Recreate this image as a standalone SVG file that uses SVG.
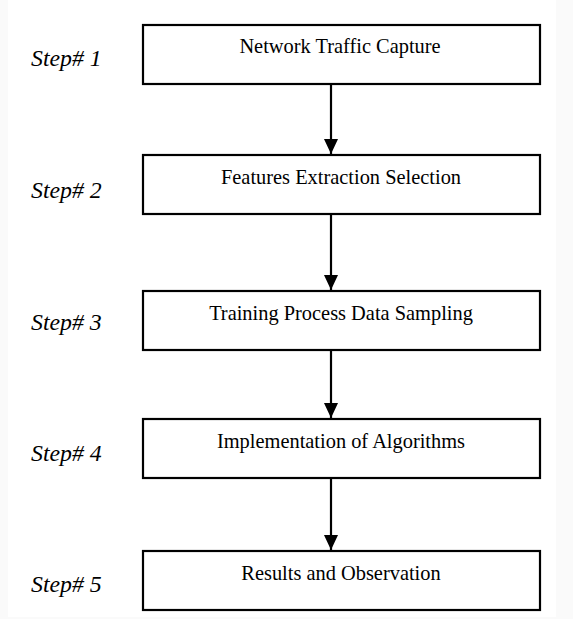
<svg xmlns="http://www.w3.org/2000/svg" width="573" height="619" viewBox="0 0 573 619">
<defs>
<style>
.box{fill:#fff;stroke:#000;stroke-width:2.2}
.lbl{font-family:"Liberation Serif","Times New Roman",serif;font-size:20.4px;fill:#000;text-anchor:middle}
.step{font-family:"Liberation Serif","Times New Roman",serif;font-size:23.8px;font-style:italic;fill:#000}
.conn{stroke:#000;stroke-width:2.2;fill:none}
</style>
<marker id="ah" markerWidth="16" markerHeight="14" refX="15" refY="7" orient="auto" markerUnits="userSpaceOnUse">
<path d="M0,0 L15,7 L0,14 Z" fill="#000"/>
</marker>
</defs>
<rect x="0" y="0" width="573" height="619" fill="#fafafa"/>
<rect x="8" y="0" width="548" height="617" fill="#fff"/>
<g id="step-labels">
<text class="step" x="31" y="66">Step# 1</text>
<text class="step" x="31" y="198">Step# 2</text>
<text class="step" x="31" y="330">Step# 3</text>
<text class="step" x="31" y="461">Step# 4</text>
<text class="step" x="31" y="592">Step# 5</text>
</g>
<g id="connectors">
<line class="conn" x1="331" y1="84" x2="331" y2="154" marker-end="url(#ah)"/>
<line class="conn" x1="331" y1="215" x2="331" y2="290" marker-end="url(#ah)"/>
<line class="conn" x1="331" y1="351" x2="331" y2="418" marker-end="url(#ah)"/>
<line class="conn" x1="331" y1="479" x2="331" y2="550" marker-end="url(#ah)"/>
</g>
<g id="node1">
<rect class="box" x="143" y="25" width="397" height="59"/>
<text class="lbl" x="340" y="53">Network Traffic Capture</text>
</g>
<g id="node2">
<rect class="box" x="143" y="155" width="397" height="59"/>
<text class="lbl" x="341" y="184">Features Extraction Selection</text>
</g>
<g id="node3">
<rect class="box" x="143" y="291" width="397" height="59"/>
<text class="lbl" x="341" y="320">Training Process Data Sampling</text>
</g>
<g id="node4">
<rect class="box" x="143" y="419" width="397" height="59"/>
<text class="lbl" x="341" y="448">Implementation of Algorithms</text>
</g>
<g id="node5">
<rect class="box" x="143" y="551" width="397" height="59"/>
<text class="lbl" x="341" y="580">Results and Observation</text>
</g>
</svg>
